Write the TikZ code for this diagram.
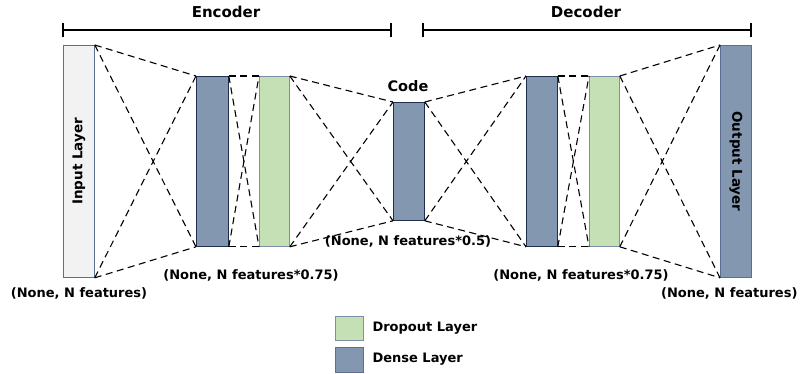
\documentclass[tikz,border=0pt]{standalone}
\usepackage{fontspec}
\setmainfont{DejaVu Sans}
\begin{document}
\begin{tikzpicture}[x=1pt,y=-1pt,
  font=\bfseries\fontsize{13}{15}\selectfont,
  title/.style={font=\bfseries\fontsize{15}{18}\selectfont},
  sidetitle/.style={font=\bfseries\fontsize{13.5}{16}\selectfont},
  layer/.style={draw, line width=0.8pt, inner sep=0pt, anchor=north west},
  dense/.style={layer, fill=denseblue, draw=densedge},
  drop/.style={layer, fill=dropgreen, draw=dropedge},
  link/.style={dash pattern=on 7pt off 4.5pt, line width=1.1pt},
  span/.style={line width=1.8pt}]
\definecolor{denseblue}{HTML}{8497B0}
\definecolor{densedge}{HTML}{1F2D4F}
\definecolor{dropgreen}{HTML}{C5E0B4}
\definecolor{dropedge}{HTML}{7F8FA9}
\definecolor{inputgray}{HTML}{F2F2F2}
\definecolor{inputedge}{HTML}{5B6F94}
\useasboundingbox (0,0) rectangle (803,373);

% layers
\node[layer, fill=inputgray, draw=inputedge, minimum width=31pt, minimum height=232pt] (in) at (63,45) {};
\node[dense, minimum width=32pt, minimum height=170pt] (d1) at (196,76) {};
\node[drop, minimum width=30pt, minimum height=170pt] (p1) at (259,76) {};
\node[dense, minimum width=31pt, minimum height=118pt] (code) at (393,102) {};
\node[dense, minimum width=31pt, minimum height=170pt] (d2) at (526,76) {};
\node[drop, minimum width=30pt, minimum height=170pt] (p2) at (589,76) {};
\node[dense, draw=inputedge, minimum width=31pt, minimum height=232pt] (out) at (720,45) {};

\node[rotate=90, sidetitle] (inlbl) at (in.center) {Input Layer};
\node[rotate=-90, sidetitle] (outlbl) at (out.center) {Output Layer};

% dashed connections between consecutive layers
\foreach \a/\b in {in/d1, d1/p1, p1/code, code/d2, d2/p2, p2/out} {
  \draw[link] (\a.north east) -- (\b.north west);
  \draw[link] (\a.south east) -- (\b.south west);
  \draw[link] (\a.north east) -- (\b.south west);
  \draw[link] (\a.south east) -- (\b.north west);
}

% shape labels
\node (s0) at (79,293) {(None, N features)};
\node (s1) at (251,275) {(None, N features*0.75)};
\node (s2) at (408,241) {(None, N features*0.5)};
\node (s3) at (581,275) {(None, N features*0.75)};
\node[anchor=east] (s4) at (801,293) {(None, N features)};
\node[font=\bfseries\fontsize{14.5}{17}\selectfont] (codelbl) at (408,86) {Code};

% encoder / decoder spans
\coordinate (e1) at (63,30);
\coordinate (e2) at (391,30);
\coordinate (c1) at (423,30);
\coordinate (c2) at (751,30);
\draw[span] (e1) -- (e2);
\draw[span] ([yshift=-7pt]e1) -- ([yshift=7pt]e1);
\draw[span] ([yshift=-7pt]e2) -- ([yshift=7pt]e2);
\draw[span] (c1) -- (c2);
\draw[span] ([yshift=-7pt]c1) -- ([yshift=7pt]c1);
\draw[span] ([yshift=-7pt]c2) -- ([yshift=7pt]c2);
\node[title] (enc) at (226,12) {Encoder};
\node[title] (dec) at (586,12) {Decoder};

% legend
\node[drop, minimum width=28pt, minimum height=24pt] (legdrop) at (335,316) {};
\node[dense, draw=inputedge, minimum width=28pt, minimum height=25pt] (legdense) at (335,347) {};
\node[anchor=west] (legdroplbl) at (369,328) {Dropout Layer};
\node[anchor=west] (legdenselbl) at (369,359) {Dense Layer};
\end{tikzpicture}
\end{document}
